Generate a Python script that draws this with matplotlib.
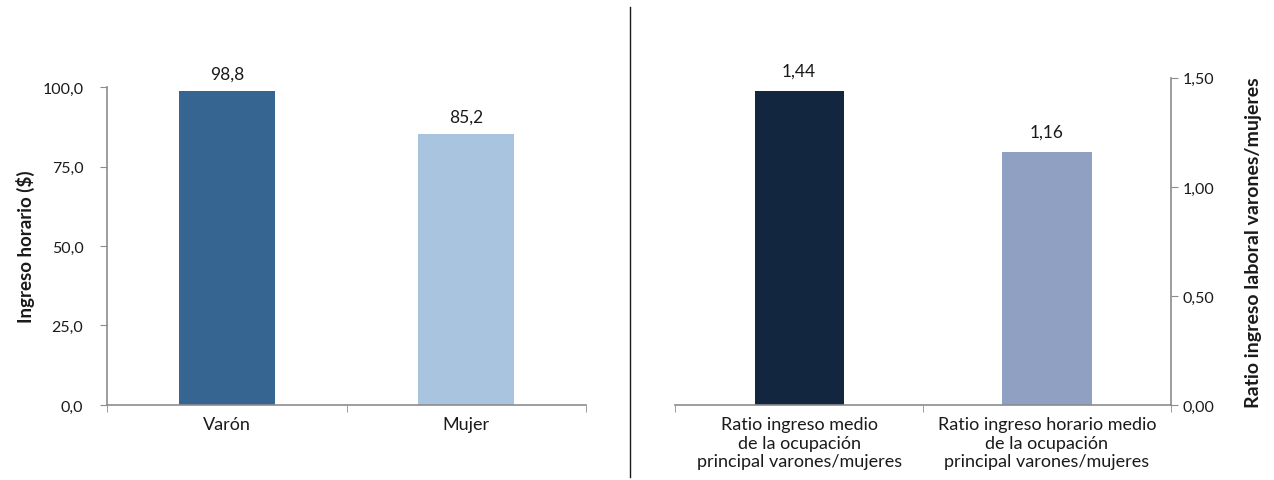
import matplotlib.pyplot as plt
from matplotlib.ticker import FuncFormatter, FixedLocator
from matplotlib.lines import Line2D

plt.rcParams['font.family'] = ['Lato', 'DejaVu Sans']

# Data
sexo = ['Varón', 'Mujer']
ingreso_horario = [98.8, 85.2]
ratio_labels = ['Ratio ingreso medio\nde la ocupación\nprincipal varones/mujeres',
                'Ratio ingreso horario medio\nde la ocupación\nprincipal varones/mujeres']
ratios = [1.44, 1.16]

gray = '#8c8c8c'
text_col = '#1a1a1a'

fig = plt.figure(figsize=(12.74, 4.81), dpi=100)
ax1 = fig.add_axes([0.084, 0.156, 0.376, 0.661])
ax2 = fig.add_axes([0.530, 0.156, 0.389, 0.680])


def style(ax, side):
    for s in ['top', 'right', 'left', 'bottom']:
        ax.spines[s].set_visible(False)
    ax.spines['bottom'].set_visible(True)
    ax.spines[side].set_visible(True)
    for s in ['bottom', side]:
        ax.spines[s].set_color(gray)
        ax.spines[s].set_linewidth(1.2)
    ax.tick_params(axis='y', colors=gray, labelcolor=text_col, labelsize=11.5, length=5)
    ax.tick_params(axis='x', which='major', length=0, pad=8, labelsize=13, labelcolor=text_col)
    ax.tick_params(axis='x', which='minor', length=5, color=gray)
    ax.set_xlim(-0.5, 1.5)
    ax.xaxis.set_minor_locator(FixedLocator([-0.5, 0.5, 1.5]))


# Left panel
x = range(len(sexo))
ax1.bar(x, ingreso_horario, width=0.4, color=['#376592', '#a9c4df'])
style(ax1, 'left')
ax1.tick_params(axis='y', pad=12)
ax1.set_ylim(0, 100)
ax1.set_yticks([0, 25, 50, 75, 100])
ax1.yaxis.set_major_formatter(FuncFormatter(lambda v, p: f'{v:.1f}'.replace('.', ',')))
ax1.set_xticks(list(x))
ax1.set_xticklabels(sexo)
ax1.set_ylabel('Ingreso horario ($)', fontsize=13.5, fontweight='bold', color=text_col, labelpad=5)
for i, v in enumerate(ingreso_horario):
    ax1.text(i, v + 3.0, f'{v:.1f}'.replace('.', ','), ha='center', va='bottom', fontsize=12.5, color=text_col)

# Right panel
x2 = range(len(ratios))
ax2.bar(x2, ratios, width=0.36, color=['#12263f', '#8fa0c3'])
style(ax2, 'right')
ax2.yaxis.tick_right()
ax2.yaxis.set_label_position('right')
ax2.set_ylim(0, 1.5)
ax2.set_yticks([0, 0.5, 1.0, 1.5])
ax2.yaxis.set_major_formatter(FuncFormatter(lambda v, p: f'{v:.2f}'.replace('.', ',')))
ax2.set_xticks(list(x2))
ax2.set_xticklabels(ratio_labels, linespacing=1.2)
ax2.set_ylabel('Ratio ingreso laboral varones/mujeres', fontsize=14, fontweight='bold',
               color=text_col, labelpad=22)
for i, v in enumerate(ratios):
    ax2.text(i, v + 0.055, f'{v:.2f}'.replace('.', ','), ha='center', va='bottom', fontsize=12.5, color=text_col)

# Separator line between panels
fig.add_artist(Line2D([0.4945, 0.4945], [0.006, 0.983], color='#1a1a1a', linewidth=1.0,
                      transform=fig.transFigure))

fig.savefig('out.png', dpi=100)
